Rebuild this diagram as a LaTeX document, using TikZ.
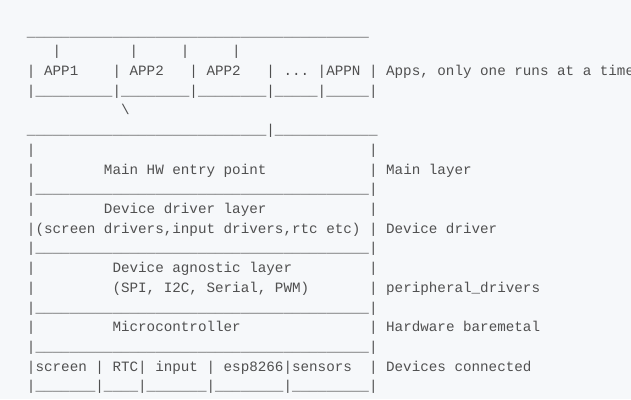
\documentclass[tikz,border=0pt]{standalone}
\usepackage{fontspec}
\newfontfamily\asciifont[WordSpace={1,0,0}]{Liberation Mono}
\ExplSyntaxOn
\cs_new:Npn \myrep #1#2 { \prg_replicate:nn {#1} {#2} }
\ExplSyntaxOff
\newcommand\US[1]{\myrep{#1}{\char95 }}
\newcommand\SP[1]{\myrep{#1}{\ }}
\definecolor{bg}{HTML}{F6F8FA}
\definecolor{ink}{HTML}{505050}
\begin{document}
\begin{tikzpicture}[x=1pt,y=-1pt,
  asciirow/.style={anchor=base west,inner sep=0pt,outer sep=0pt,text=ink,
    font=\asciifont\fontsize{14.25}{19.72}\selectfont\frenchspacing}]
\fill[bg] (0,0) rectangle (631,399);
\useasboundingbox (0,0) rectangle (631,399);
\clip (0,0) rectangle (631,399);
\def\rowx{27}
\node[asciirow] (r0)  at (\rowx,{36+19.72*0})  {\US{40}};
\node[asciirow] (r1)  at (\rowx,{36+19.72*1})  {\SP{3}|\SP{8}|\SP{5}|\SP{5}|};
\node[asciirow] (r2)  at (\rowx,{36+19.72*2})  {|\SP{1}APP1\SP{4}|\SP{1}APP2\SP{3}|\SP{1}APP2\SP{3}|\SP{1}...\SP{1}|APPN\SP{1}|\SP{1}Apps, only one runs at a time};
\node[asciirow] (r3)  at (\rowx,{36+19.72*3})  {|\US{9}|\US{8}|\US{8}|\US{5}|\US{5}|};
\node[asciirow] (r4)  at (\rowx,{36+19.72*4})  {\SP{11}\textbackslash};
\node[asciirow] (r5)  at (\rowx,{36+19.72*5})  {\US{28}|\US{12}};
\node[asciirow] (r6)  at (\rowx,{36+19.72*6})  {|\SP{39}|};
\node[asciirow] (r7)  at (\rowx,{36+19.72*7})  {|\SP{8}Main HW entry point\SP{12}|\SP{1}Main layer};
\node[asciirow] (r8)  at (\rowx,{36+19.72*8})  {|\US{39}|};
\node[asciirow] (r9)  at (\rowx,{36+19.72*9})  {|\SP{8}Device driver layer\SP{12}|};
\node[asciirow] (r10) at (\rowx,{36+19.72*10}) {|(screen drivers,input drivers,rtc etc)\SP{1}|\SP{1}Device driver};
\node[asciirow] (r11) at (\rowx,{36+19.72*11}) {|\US{39}|};
\node[asciirow] (r12) at (\rowx,{36+19.72*12}) {|\SP{9}Device agnostic layer\SP{9}|};
\node[asciirow] (r13) at (\rowx,{36+19.72*13}) {|\SP{9}(SPI, I2C, Serial, PWM)\SP{7}|\SP{1}peripheral\char95 drivers};
\node[asciirow] (r14) at (\rowx,{36+19.72*14}) {|\US{39}|};
\node[asciirow] (r15) at (\rowx,{36+19.72*15}) {|\SP{9}Microcontroller\SP{15}|\SP{1}Hardware baremetal};
\node[asciirow] (r16) at (\rowx,{36+19.72*16}) {|\US{39}|};
\node[asciirow] (r17) at (\rowx,{36+19.72*17}) {|screen\SP{1}|\SP{1}RTC|\SP{1}input\SP{1}|\SP{1}esp8266|sensors\SP{2}|\SP{1}Devices connected};
\node[asciirow] (r18) at (\rowx,{36+19.72*18}) {|\US{7}|\US{4}|\US{7}|\US{8}|\US{9}|};
\end{tikzpicture}
\end{document}
